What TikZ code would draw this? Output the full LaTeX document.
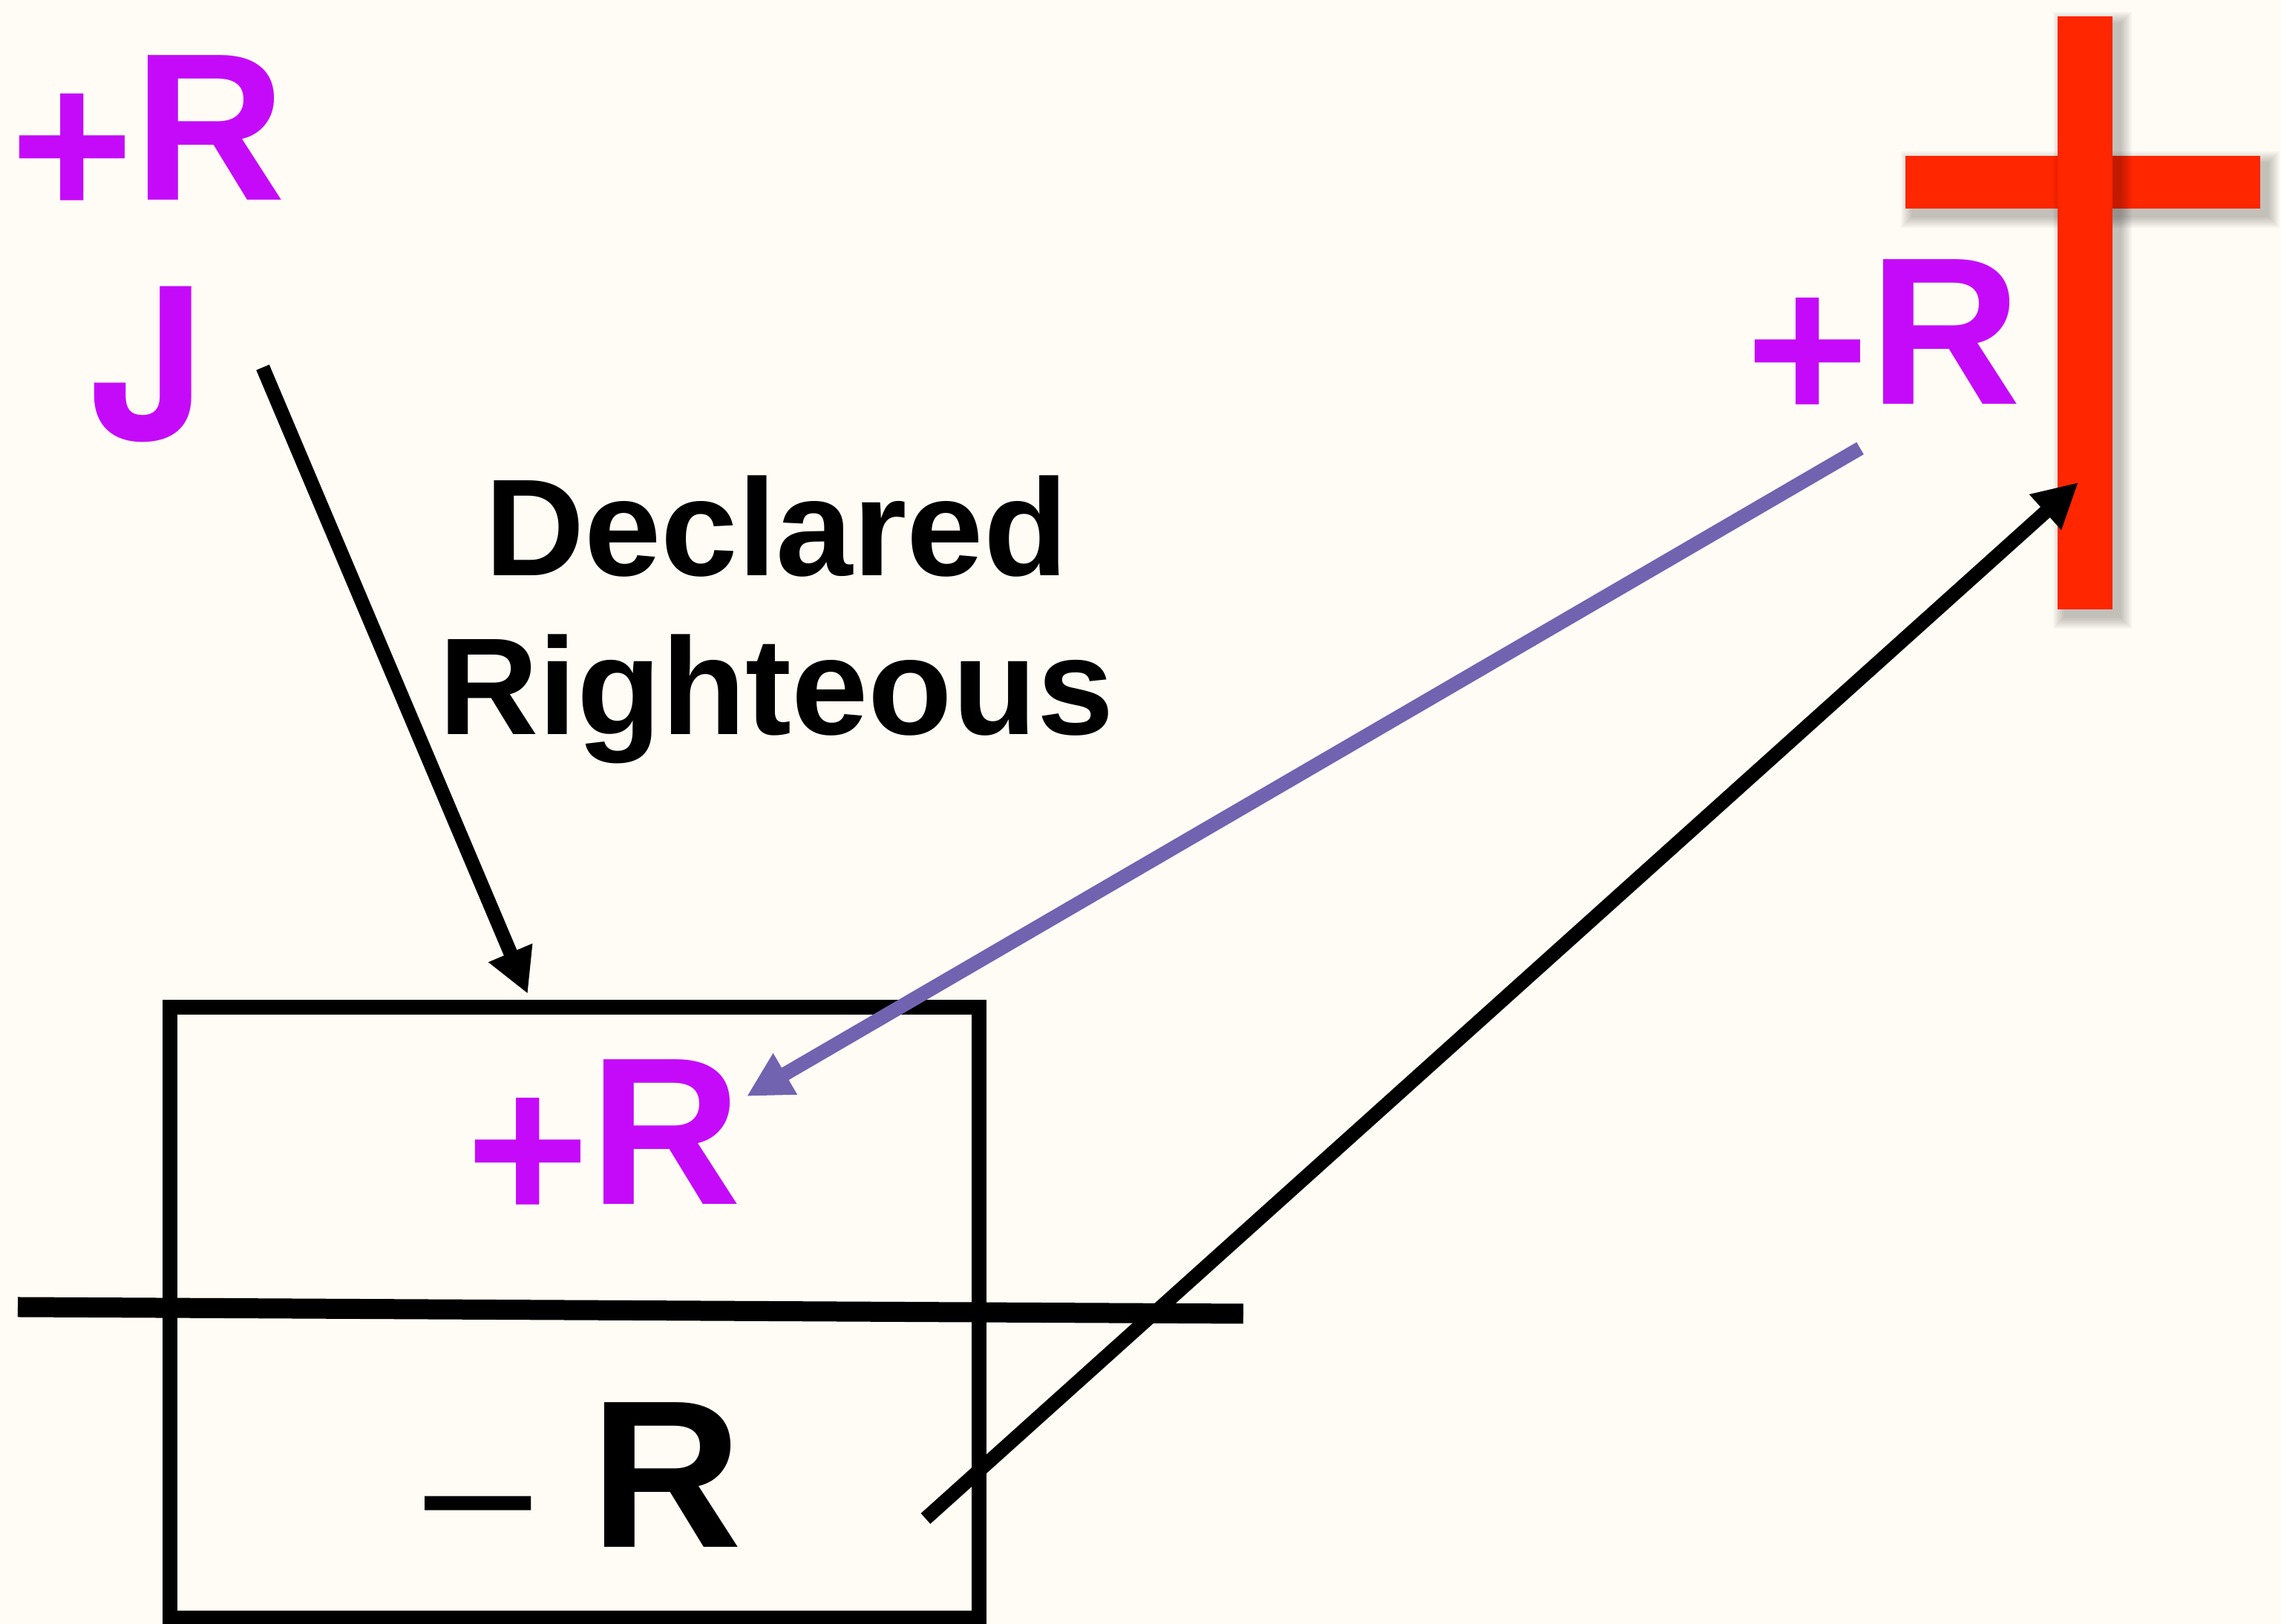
\documentclass[tikz,border=0pt]{standalone}
\usepackage{fontspec}
\setmainfont{Liberation Sans}
\newfontfamily\heros{TeX Gyre Heros}
\usetikzlibrary{arrows.meta}
\definecolor{cmag}{HTML}{C50AFA}
\definecolor{cviolet}{HTML}{7263B0}
\definecolor{cred}{HTML}{FF2600}
\definecolor{cpaper}{HTML}{FFFCF5}
\newcommand{\lowplus}{\raisebox{-0.23cm}{+}}

\begin{document}
\begin{tikzpicture}[
    big/.style={inner sep=0, anchor=base west, font=\bfseries\fontsize{80.6}{96}\selectfont},
    arr/.style={line width=0.19cm, -{Triangle[length=0.6cm,width=0.6cm]}}]
  \useasboundingbox (0,0) rectangle (30.73,21.88);
  \fill[cpaper] (0,0) rectangle (30.73,21.88);
  \foreach \xa/\ya/\xb/\yb in {25.67/19.07/30.45/19.78, 27.72/13.67/28.46/21.66} {
    \foreach \g in {0.02,0.04,...,0.16}
      \fill[black, opacity=.03] (\xa+0.1-\g,\ya-0.1-\g) rectangle (\xb+0.1+\g,\yb-0.1+\g);
    \fill[cred] (\xa,\ya) rectangle (\xb,\yb);
  }
  \node[draw, line width=0.2cm, minimum width=10.9cm, minimum height=8.23cm, inner sep=0] (frame) at (7.74,4.195) {};
  \draw[line width=0.27cm] (0.24,4.27) -- (16.75,4.18);
  \node[big, cmag] (topR) at (0.14,19.18) {\lowplus R};
  \node[big, cmag] (J) at (1.20,15.95) {\heros J};
  \node[big, cmag] (crossR) at (23.52,16.43) {\lowplus R};
  \node[big, cmag] (boxR) at (6.28,5.65) {\lowplus R};
  \node[big] (minusR) at (5.72,1.03) {{\mdseries\raisebox{-0.13cm}{\scalebox{0.91}[1]{–}}}\hspace{.28em}R};
  \node[font=\bfseries\fontsize{52.9}{60.9}\selectfont, align=center, anchor=base, inner sep=0] (decl) at (10.46,11.98) {Declared\\Righteous};
  \coordinate (jfoot) at (3.54,16.93);
  \coordinate (frametop) at (7.11,8.49);
  \coordinate (crossfoot) at (25.06,15.84);
  \coordinate (boxRtip) at (10.06,7.11);
  \coordinate (minusend) at (12.47,1.42);
  \coordinate (crosshit) at (28.00,15.38);
  \draw[arr] (jfoot) -- (frametop);
  \draw[arr, cviolet] (crossfoot) -- (boxRtip);
  \draw[arr] (minusend) -- (crosshit);
\end{tikzpicture}
\end{document}
